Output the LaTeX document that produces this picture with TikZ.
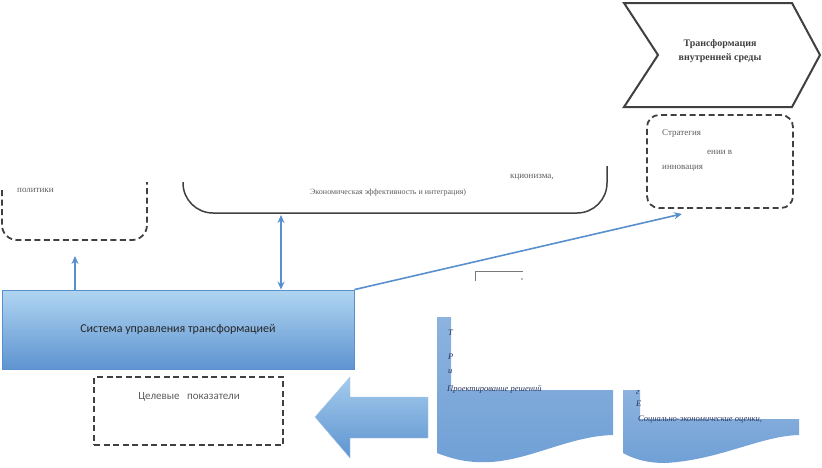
\documentclass[tikz,border=0pt]{standalone}
\usepackage{fontspec}
\setmainfont{Liberation Serif}
\newfontfamily\calibri{Carlito}
\usetikzlibrary{arrows.meta}

\definecolor{strelka}{RGB}{88,143,205}
\definecolor{kontur}{RGB}{64,64,64}
\definecolor{svetlo}{RGB}{176,213,241}
\definecolor{temno}{RGB}{94,148,209}
\definecolor{volna}{RGB}{112,160,214}
\definecolor{tekst}{RGB}{92,92,92}
\definecolor{kursiv}{RGB}{40,52,92}

\tikzset{
  punktir/.style={draw=kontur, line width=1.8pt, dash pattern=on 6pt off 3.5pt},
  melkij/.style={font=\fontsize{9}{10}\selectfont, text=tekst, inner sep=0pt, anchor=west},
  kursivnyj/.style={font=\fontsize{8.5}{9}\selectfont\itshape, text=kursiv, inner sep=0pt, anchor=west},
  sisbox/.style={draw=strelka, line width=0.8pt, top color=svetlo, bottom color=temno,
    minimum width=352pt, minimum height=79pt, inner sep=0pt,
    font=\calibri\fontsize{12}{14}\selectfont, text=black!85},
  svyaz/.style={strelka, line width=1.6pt}
}

\begin{document}
\begin{tikzpicture}[x=1pt, y=-1pt, >={Stealth[length=8pt, width=7pt]}]
    \useasboundingbox (0,0) rectangle (822,467);

    % Шеврон
    \draw[kontur, line width=2pt, fill=white]
        (624,3) -- (792,3) -- (820,55) -- (792,107) -- (624,107) -- (658,55) -- cycle;
    \node[font=\bfseries\fontsize{10}{14}\selectfont, text=kontur, align=center] (chev) at (720,51)
        {Трансформация\\внутренней среды};

    % Стратегия
    \node[punktir, rounded corners=12pt, minimum width=146pt, minimum height=93pt] (strat) at (720,161.5) {};
    \node[melkij] (strat1) at (662,133) {Стратегия};
    \node[melkij] (strat2) at (707,152) {ении в};
    \node[melkij] (strat3) at (662,168) {инновация};

    % Политики (видна нижняя часть)
    \draw[punktir, rounded corners=15pt] (2,190) -- (2,240) -- (147,240) -- (147,182);
    \node[melkij] (polit) at (17,190) {политики};
    \coordinate (politniz) at (75,256);

    % Большой блок (видна нижняя часть)
    \draw[kontur, line width=1.5pt, rounded corners=30pt] (183,182) -- (183,213) -- (607,213) -- (607,166);
    \node[melkij] (kcion) at (510,177) {кционизма,};
    \node[melkij, font=\fontsize{8}{9}\selectfont] (ekon) at (310,193) {Экономическая эффективность и интеграция)};
    \coordinate (bolniz) at (281,215);

    % Уголок
    \draw[kontur!70, line width=0.8pt] (475,281) -- (475,271) -- (523,271);
    \fill[kontur!70] (522,279) circle (0.9);

    % Система управления
    \node[sisbox] (sys) at (178,329.5) {Система управления трансформацией};

    % Связи
    \draw[->, svyaz] (sys.north -| politniz) -- (politniz);
    \draw[<->, svyaz] (sys.north -| bolniz) -- (bolniz);
    \draw[->, svyaz] (sys.north east) -- ([shift={(-38,5)}]strat.south);

    % Целевые показатели
    \node[punktir, minimum width=189pt, minimum height=68pt] (cel) at (188.5,411) {};
    \node[font=\calibri\fontsize{11}{12}\selectfont, text=tekst] (celtxt) at (189,397) {Целевые \ \ показатели};

    % Большая стрелка
    \shade[top color=svetlo!85!temno, bottom color=temno, draw=strelka!50, line width=0.4pt]
        (315,417) -- (350,377) -- (350,397) -- (428,397) -- (428,438) -- (350,438) -- (350,458) -- cycle;

    % Документы
    \shade[top color=volna!80!white, bottom color=volna]
        (437,317) -- (451,317) -- (451,390) -- (613,390) -- (613,435)
        .. controls (570,436) and (530,460) .. (490,462)
        .. controls (470,463) and (455,460) .. (437,453) -- cycle;
    \node[kursivnyj] (doc1a) at (448,333) {Т};
    \node[kursivnyj] (doc1b) at (448,357) {Р};
    \node[kursivnyj] (doc1c) at (448,372) {и};
    \node[kursivnyj] (doc1d) at (447,389) {Проектирование решений};

    \shade[top color=volna!80!white, bottom color=volna]
        (623,390) -- (640,390) -- (640,419) -- (799,419) -- (799,435)
        .. controls (760,436) and (720,460) .. (665,463)
        .. controls (645,463) and (632,458) .. (623,453) -- cycle;
    \node[kursivnyj] (doc2a) at (636,393) {г};
    \node[kursivnyj] (doc2b) at (636,404) {Е};
    \node[kursivnyj] (doc2c) at (638,420) {Социально-экономические оценки,};
\end{tikzpicture}
\end{document}
